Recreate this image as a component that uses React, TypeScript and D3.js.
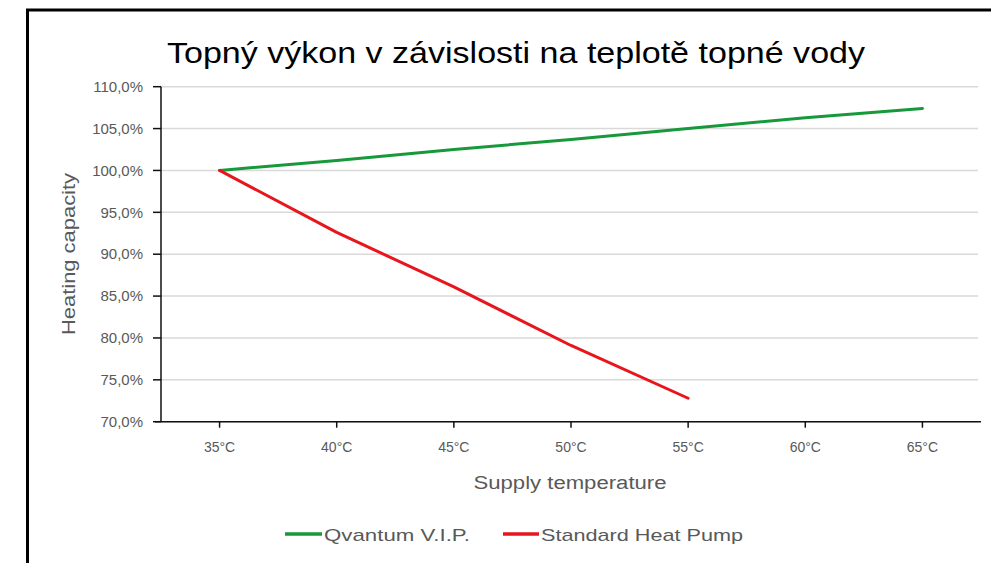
import React from "react";
import * as d3 from "d3";

const temps = [35, 40, 45, 50, 55, 60, 65];
const tempLabels = ["35°C", "40°C", "45°C", "50°C", "55°C", "60°C", "65°C"];
const qvantum = [100.0, 101.2, 102.5, 103.7, 105.0, 106.3, 107.4];
const standardTemps = [35, 40, 45, 50, 55];
const standard = [100.0, 92.6, 86.1, 79.1, 72.8];
const yTicks = [70, 75, 80, 85, 90, 95, 100, 105, 110];
const yTickLabels = ["70,0%", "75,0%", "80,0%", "85,0%", "90,0%", "95,0%", "100,0%", "105,0%", "110,0%"];

const W = 991;
const H = 563;
const GREEN = "#17993b";
const RED = "#e8161c";
const FONT = "'Liberation Sans', Arial, sans-serif";

export default function App() {
  const x = d3.scaleLinear().domain([32.5, 67.5]).range([161, 981]);
  const y = d3.scaleLinear().domain([70, 110]).range([421.7, 86.7]);
  const line = d3
    .line<[number, number]>()
    .x((d) => x(d[0]))
    .y((d) => y(d[1]));
  const greenPts: [number, number][] = temps.map((t, i) => [t, qvantum[i]]);
  const redPts: [number, number][] = standardTemps.map((t, i) => [t, standard[i]]);

  return (
    <svg
      width={W}
      height={H}
      style={{ position: "absolute", left: 0, top: 0, background: "#fff" }}
    >
      <rect x={0} y={0} width={W} height={H} fill="#fff" />
      {/* frame */}
      <line x1={27.5} y1={10} x2={27.5} y2={H} stroke="#000" strokeWidth={3} />
      <line x1={26} y1={10} x2={W} y2={10} stroke="#000" strokeWidth={3} />

      {/* title */}
      <text
        x={167}
        y={63}
        fontFamily={FONT}
        fontSize={30}
        fill="#000"
        textLength={698}
        lengthAdjust="spacingAndGlyphs"
      >
        Topný výkon v závislosti na teplotě topné vody
      </text>

      {/* gridlines */}
      {yTicks.map((t) => (
        <line key={"g" + t} x1={161} x2={978} y1={y(t)} y2={y(t)} stroke="#d9d9d9" strokeWidth={1.5} />
      ))}

      {/* y axis */}
      <line x1={161} x2={161} y1={y(110)} y2={y(70)} stroke="#111" strokeWidth={1.5} />
      {yTicks.map((t, i) => (
        <g key={"y" + t}>
          <line x1={153} x2={161} y1={y(t)} y2={y(t)} stroke="#111" strokeWidth={1.5} />
          <text
            x={143}
            y={y(t)}
            dy="0.35em"
            textAnchor="end"
            fontFamily={FONT}
            fontSize={15}
            fill="#595959"
          >
            {yTickLabels[i]}
          </text>
        </g>
      ))}

      {/* x axis */}
      <line x1={155} x2={981} y1={y(70)} y2={y(70)} stroke="#111" strokeWidth={1.5} />
      {temps.map((t, i) => (
        <g key={"x" + t}>
          <line x1={x(t)} x2={x(t)} y1={y(70)} y2={y(70) + 6} stroke="#111" strokeWidth={1.5} />
          <text
            x={x(t)}
            y={452}
            textAnchor="middle"
            fontFamily={FONT}
            fontSize={14}
            fill="#595959"
          >
            {tempLabels[i]}
          </text>
        </g>
      ))}

      {/* axis titles */}
      <text
        x={570}
        y={489}
        textAnchor="middle"
        fontFamily={FONT}
        fontSize={18}
        fill="#595959"
        textLength={193}
        lengthAdjust="spacingAndGlyphs"
      >
        Supply temperature
      </text>
      <text
        transform={`translate(75,254) rotate(-90)`}
        textAnchor="middle"
        fontFamily={FONT}
        fontSize={18}
        fill="#595959"
        textLength={162}
        lengthAdjust="spacingAndGlyphs"
      >
        Heating capacity
      </text>

      {/* series */}
      <path d={line(greenPts) || ""} fill="none" stroke={GREEN} strokeWidth={3} strokeLinejoin="round" strokeLinecap="round" />
      <path d={line(redPts) || ""} fill="none" stroke={RED} strokeWidth={3} strokeLinejoin="round" strokeLinecap="round" />

      {/* legend */}
      <line x1={285} x2={322} y1={534} y2={534} stroke={GREEN} strokeWidth={3.5} />
      <text
        x={324}
        y={541}
        fontFamily={FONT}
        fontSize={17}
        fill="#595959"
        textLength={146}
        lengthAdjust="spacingAndGlyphs"
      >
        Qvantum V.I.P.
      </text>
      <line x1={503} x2={539} y1={534} y2={534} stroke={RED} strokeWidth={3.5} />
      <text
        x={541}
        y={541}
        fontFamily={FONT}
        fontSize={17}
        fill="#595959"
        textLength={202}
        lengthAdjust="spacingAndGlyphs"
      >
        Standard Heat Pump
      </text>
    </svg>
  );
}
